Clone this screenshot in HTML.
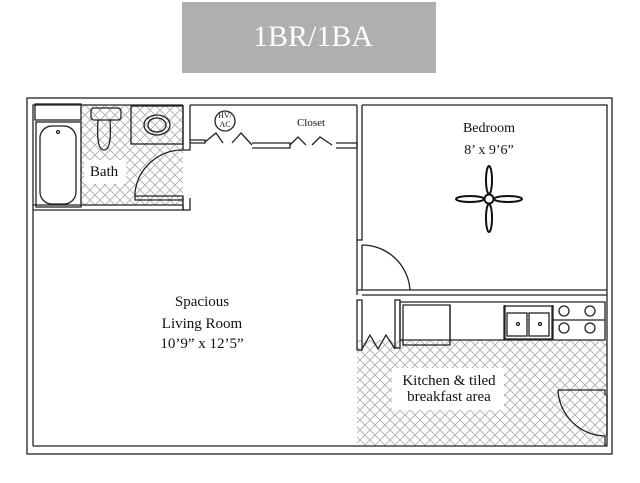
<!DOCTYPE html>
<html><head><style>
html,body{margin:0;padding:0;background:#fff;width:640px;height:483px;overflow:hidden}
svg{display:block}
text{font-family:"Liberation Serif",serif;fill:#111}
</style></head><body>
<svg width="640" height="483" viewBox="0 0 640 483" xmlns="http://www.w3.org/2000/svg">
<defs>
<pattern id="tile" width="10" height="10" patternUnits="userSpaceOnUse">
<path d="M0 0L10 10M10 0L0 10" stroke="#aaa" stroke-width="0.8" fill="none"/>
</pattern>
</defs>
<rect x="182" y="2" width="254" height="71" fill="#b0afad"/>
<text x="313" y="46" font-size="30" text-anchor="middle" style="fill:#fff">1BR/1BA</text>

<rect x="80" y="105" width="103" height="100" fill="url(#tile)"/>
<rect x="357" y="340" width="250" height="106" fill="url(#tile)"/>
<rect x="392" y="368" width="112" height="42" fill="#fff"/>
<rect x="84" y="160" width="42" height="24" fill="#fff"/>

<g fill="none" stroke="#222" stroke-width="1.3">
<rect x="27" y="98" width="585" height="356"/>
<path d="M33 446H607V105H362M357 105H190M183 105H33V446"/>
<path d="M33 205H183V210H33"/>
<rect x="35" y="104" width="46" height="16"/>
<rect x="36" y="122" width="45" height="85"/>
<rect x="40" y="126" width="36" height="78" rx="12"/>
<circle cx="58" cy="132" r="1.5"/>
<rect x="91" y="108" width="30" height="12" rx="3"/>
<path d="M98 120Q96 150 104 150Q112 150 110 120"/>
<rect x="131" y="106" width="52" height="38"/>
<ellipse cx="157" cy="125" rx="13" ry="10"/>
<ellipse cx="157" cy="125" rx="9" ry="7"/>
<path d="M183 105V150H190V105M183 198V210H190V198"/>
<path d="M135 196H183V200H135Z"/>
<path d="M135 196V192A48 48 0 0 1 183 150"/>
<circle cx="225" cy="121" r="10"/>
<path d="M190 143H205V140H190M205 142L216 133L223 143M232 143L241 133L252 145M252 143H290V148H252M290 145L298 137L306 145M312 145L320 137L332 145M336 143H357V148H336"/>
<path d="M357 105V240H362V105M357 290H607M362 295H607M357 240V295"/>
<path d="M362 245V290M362 245A48 48 0 0 1 410 290"/>
<path d="M357 300H362V350H357Z"/>
<rect x="395" y="300" width="5" height="48"/>
<path d="M362 349L370 335L378 349L386 335L395 349"/>
<path d="M400 302H605V340H400Z"/>
<path d="M403 305H450V345H403Z"/>
<path d="M450 305V340M505 305V340M553 305V340M553 320H605"/>
<rect x="504" y="306" width="48" height="33"/>
<rect x="507" y="313" width="20" height="23"/>
<rect x="529" y="313" width="20" height="23"/>
<circle cx="518" cy="324" r="1.5"/><circle cx="540" cy="324" r="1.5"/>
<circle cx="564" cy="311" r="5"/><circle cx="590" cy="311" r="5"/>
<circle cx="564" cy="328" r="5"/><circle cx="590" cy="328" r="5"/>
<path d="M558 390H605V395M558 390A48 48 0 0 0 605 436M605 436V446"/>
<path d="M607 395V436"/>
</g>
<g fill="#fff" stroke="#111" stroke-width="2">
<ellipse cx="489" cy="180" rx="3" ry="14"/>
<ellipse cx="489" cy="218" rx="3" ry="14"/>
<ellipse cx="470" cy="199" rx="14" ry="3"/>
<ellipse cx="508" cy="199" rx="14" ry="3"/>
<circle cx="489" cy="199" r="4.5"/>
</g>

<text x="225" y="118" font-size="8" text-anchor="middle">HV/</text>
<text x="225" y="127" font-size="8" text-anchor="middle">AC</text>
<text x="311" y="126" font-size="11" text-anchor="middle">Closet</text>
<text x="104" y="176" font-size="15" text-anchor="middle">Bath</text>
<text x="489" y="132" font-size="14" text-anchor="middle">Bedroom</text>
<text x="489" y="154" font-size="14" text-anchor="middle">8’ x 9’6”</text>
<text x="202" y="306" font-size="15" text-anchor="middle">Spacious</text>
<text x="202" y="328" font-size="15" text-anchor="middle">Living Room</text>
<text x="202" y="348" font-size="15" text-anchor="middle">10’9” x 12’5”</text>
<text x="449" y="385" font-size="15" text-anchor="middle">Kitchen &amp; tiled</text>
<text x="449" y="401" font-size="15" text-anchor="middle">breakfast area</text>
</svg>
</body></html>
